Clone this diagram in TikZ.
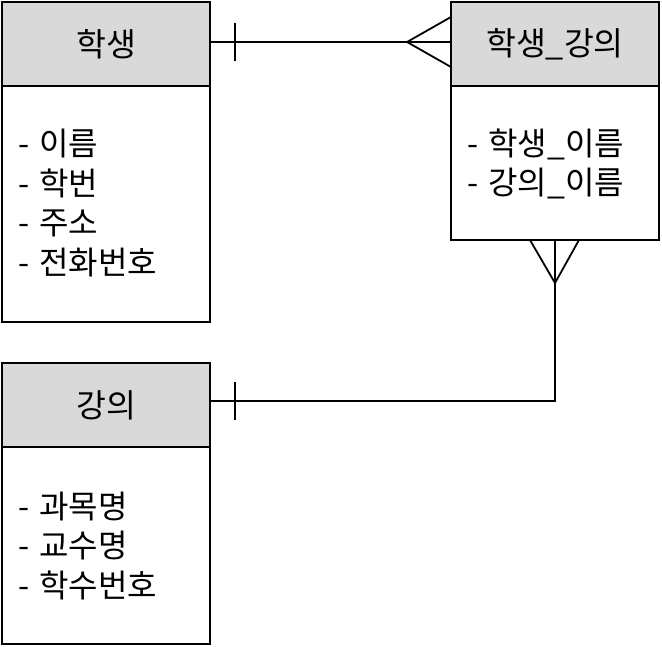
\documentclass[tikz,border=0pt]{standalone}
\usepackage{fontspec}
\setmainfont{Noto Sans CJK KR}
\newfontfamily\kr{Noto Sans CJK KR}
\definecolor{hdr}{HTML}{D9D9D9}
\newcommand{\dsh}{-\kern3pt\ }
\begin{document}
\begin{tikzpicture}[x=1pt,y=-1pt,
  ln/.style={line width=1.8pt,black},
  hbox/.style={draw,ln,fill=hdr,minimum width=208pt,minimum height=84pt,inner sep=0pt,font=\kr\fontsize{32.5}{36}\selectfont},
  bbox/.style={draw,ln,fill=white,minimum width=208pt,inner sep=0pt},
  btext/.style={anchor=west,align=left,inner sep=0pt,font=\kr\fontsize{32}{39.7}\selectfont}]
\useasboundingbox (0,0) rectangle (662,647);
% 학생
\node[bbox,minimum height=236pt] (b1) at (106,204) {};
\node[hbox] (h1) at (106,44) {학생};
\node[btext] (t1) at (18,203) {\dsh 이름\\\dsh 학번\\\dsh 주소\\\dsh 전화번호};
% 학생_강의
\node[bbox,minimum height=154pt] (b2) at (555,163) {};
\node[hbox] (h2) at (555,44) {학생\_강의};
\node[btext] (t2) at (467,164) {\dsh 학생\_이름\\\dsh 강의\_이름};
% 강의
\node[bbox,minimum height=197pt] (b3) at (106,545.5) {};
\node[hbox] (h3) at (106,405) {강의};
\node[btext] (t3) at (18,546) {\dsh 과목명\\\dsh 교수명\\\dsh 학수번호};
% connector 1
\coordinate (c1a) at (210,42);
\coordinate (c1b) at (451,42);
\draw[ln] (c1a) -- (c1b);
\draw[ln] (235,23) -- (235,61);
\draw[ln] (451,17) -- (407,42) -- (451,67);
% connector 2
\coordinate (c2a) at (210,401);
\coordinate (c2b) at (555,240);
\draw[ln] (c2a) -| (c2b);
\draw[ln] (235,382) -- (235,420);
\draw[ln] (530,240) -- (555,283) -- (579,240);
\end{tikzpicture}
\end{document}
